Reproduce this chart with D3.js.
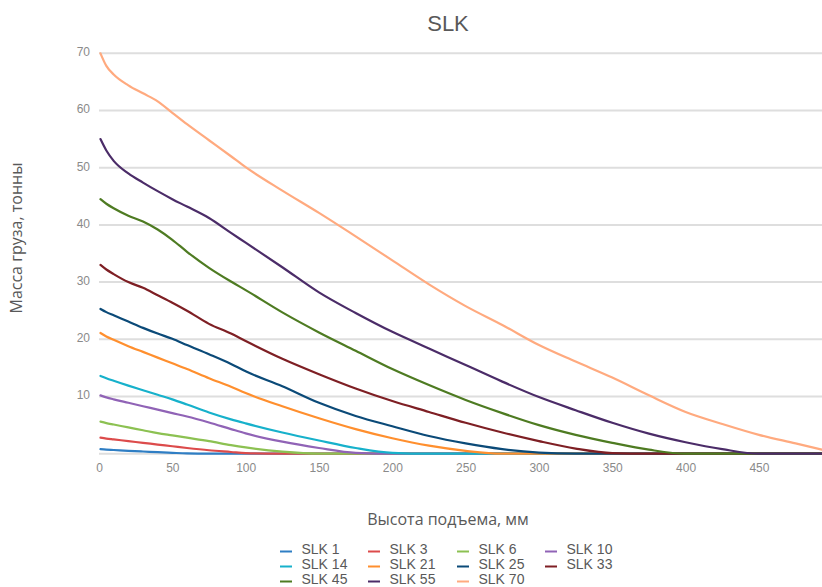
<!DOCTYPE html>
<html>
<head>
<meta charset="utf-8">
<script src="https://cdn.jsdelivr.net/npm/d3@7"></script>
<style>
  html, body { margin: 0; padding: 0; background: #fff; }
  svg { display: block; }
</style>
</head>
<body>
<svg id="chart" width="822" height="587"></svg>
<script>
// ---- data ----
const title = "SLK";
const xTitle = "Высота подъема, мм";
const yTitle = "Масса груза, тонны";
const xTicks = [0, 50, 100, 150, 200, 250, 300, 350, 400, 450];
const yTicks = [10, 20, 30, 40, 50, 60, 70];
const heights = [1, 5, 10, 20, 30, 40, 50, 60, 75, 90, 100, 125, 150, 175, 200, 225, 250, 275, 300, 325, 350, 375, 400, 425, 450, 475, 493];

const seriesNames = ["SLK 1", "SLK 3", "SLK 6", "SLK 10", "SLK 14", "SLK 21", "SLK 25", "SLK 33", "SLK 45", "SLK 55", "SLK 70"];
const seriesColors = ["#2f7ec4", "#dc4b4b", "#8cc152", "#9063b6", "#17b1cb", "#ff8f2e", "#0b4a78", "#7e1f24", "#4e7b22", "#4b2c68", "#ffaa7f"];

const slk1  = [0.8, 0.72, 0.65, 0.5, 0.38, 0.26, 0.15, 0.05, 0, 0, 0, 0, 0, 0, 0, 0, 0, 0, 0, 0, 0, 0, 0, 0, 0, 0, 0];
const slk3  = [2.8, 2.65, 2.5, 2.2, 1.9, 1.6, 1.3, 1.0, 0.6, 0.3, 0.1, 0, 0, 0, 0, 0, 0, 0, 0, 0, 0, 0, 0, 0, 0, 0, 0];
const slk6  = [5.6, 5.35, 5.1, 4.6, 4.1, 3.6, 3.2, 2.8, 2.2, 1.5, 1.1, 0.35, 0, 0, 0, 0, 0, 0, 0, 0, 0, 0, 0, 0, 0, 0, 0];
const slk10 = [10.2, 9.85, 9.5, 8.9, 8.3, 7.7, 7.1, 6.5, 5.45, 4.3, 3.55, 2.1, 1.0, 0.15, 0, 0, 0, 0, 0, 0, 0, 0, 0, 0, 0, 0, 0];
const slk14 = [13.6, 13.2, 12.75, 11.9, 11.1, 10.3, 9.5, 8.6, 7.2, 6.0, 5.3, 3.7, 2.3, 1.0, 0.15, 0, 0, 0, 0, 0, 0, 0, 0, 0, 0, 0, 0];
const slk21 = [21.1, 20.5, 19.9, 18.8, 17.8, 16.8, 15.8, 14.8, 13.2, 11.7, 10.6, 8.3, 6.2, 4.3, 2.7, 1.4, 0.5, 0, 0, 0, 0, 0, 0, 0, 0, 0, 0];
const slk25 = [25.3, 24.75, 24.2, 23.1, 22.0, 21.0, 20.1, 19.0, 17.4, 15.7, 14.4, 11.8, 8.9, 6.6, 4.8, 3.1, 1.8, 0.8, 0.2, 0, 0, 0, 0, 0, 0, 0, 0];
const slk33 = [33.0, 32.2, 31.4, 30.0, 29.0, 27.7, 26.4, 25.0, 22.7, 21.0, 19.7, 16.6, 13.9, 11.4, 9.2, 7.3, 5.4, 3.7, 2.2, 0.9, 0.1, 0, 0, 0, 0, 0, 0];
const slk45 = [44.5, 43.7, 42.9, 41.6, 40.6, 39.2, 37.4, 35.3, 32.5, 30.1, 28.6, 24.7, 21.2, 18.0, 14.8, 12.0, 9.4, 7.1, 5.0, 3.3, 1.9, 0.7, 0, 0, 0, 0, 0];
const slk55 = [55.0, 53.0, 51.2, 49.0, 47.4, 45.9, 44.5, 43.2, 41.2, 38.6, 36.9, 32.6, 28.2, 24.6, 21.3, 18.4, 15.5, 12.6, 9.9, 7.6, 5.4, 3.5, 2.0, 0.8, 0, 0, 0];
const slk70 = [70.0, 67.8, 66.3, 64.4, 63.0, 61.6, 59.6, 57.6, 54.8, 52.0, 50.1, 46.0, 42.1, 38.0, 33.8, 29.6, 25.8, 22.5, 19.0, 16.1, 13.3, 10.2, 7.3, 5.2, 3.3, 1.8, 0.7];

const seriesValues = [slk1, slk3, slk6, slk10, slk14, slk21, slk25, slk33, slk45, slk55, slk70];

// ---- layout ----
const svg = d3.select("#chart");
const plotLeft = 99, plotRight = 822, plotTop = 53.3, plotBottom = 453.7;

const x = d3.scaleLinear().domain([0, 493]).range([plotLeft, plotRight]);
const y = d3.scaleLinear().domain([0, 70]).range([plotBottom, plotTop]);

const sansF = "'Liberation Sans', Arial, Helvetica, sans-serif";
const titleF = "'Open Sans', 'Noto Sans', sans-serif";

// gridlines (including baseline at 0)
svg.append("g")
  .selectAll("line")
  .data([0].concat(yTicks))
  .join("line")
  .attr("x1", plotLeft).attr("x2", plotRight)
  .attr("y1", d => y(d)).attr("y2", d => y(d))
  .attr("stroke", "#dedede")
  .attr("stroke-width", 2);

// y tick labels
const yAxis = d3.axisLeft(y).tickValues(yTicks).tickSize(0).tickPadding(9);
const gy = svg.append("g").attr("transform", `translate(${plotLeft},0)`).call(yAxis);
gy.select(".domain").remove();
gy.selectAll("text")
  .attr("fill", "#8a8a8a")
  .style("font-family", sansF)
  .style("font-size", "12px")
  .attr("dy", "0.2em");

// x tick labels
const xAxis = d3.axisBottom(x).tickValues(xTicks).tickSize(0).tickPadding(10);
const gx = svg.append("g").attr("transform", `translate(0,${plotBottom})`).call(xAxis);
gx.select(".domain").remove();
gx.selectAll("text")
  .attr("fill", "#8a8a8a")
  .style("font-family", sansF)
  .style("font-size", "12px")
  .attr("y", 0).attr("dy", 0)
  .attr("transform", "translate(0,18.3)");

// lines
const line = d3.line()
  .x((d, i) => x(heights[i]))
  .y(d => y(d))
  .curve(d3.curveMonotoneX);

svg.append("g")
  .selectAll("path")
  .data(seriesValues)
  .join("path")
  .attr("d", d => line(d))
  .attr("fill", "none")
  .attr("stroke", (d, i) => seriesColors[i])
  .attr("stroke-width", 2.2)
  .attr("stroke-linejoin", "round")
  .attr("stroke-linecap", "round");

// title
svg.append("text")
  .attr("x", 448).attr("y", 31)
  .attr("text-anchor", "middle")
  .attr("fill", "#595959")
  .style("font-family", sansF)
  .style("font-size", "22px")
  .text(title);

// axis titles
svg.append("text")
  .attr("x", 448).attr("y", 525)
  .attr("text-anchor", "middle")
  .attr("fill", "#595959")
  .style("font-family", titleF)
  .style("font-size", "16px")
  .text(xTitle);

svg.append("text")
  .attr("transform", "translate(22,238) rotate(-90)")
  .attr("text-anchor", "middle")
  .attr("fill", "#595959")
  .style("font-family", titleF)
  .style("font-size", "16px")
  .text(yTitle);

// legend
const colX = [280, 368, 457, 545];
const rowY = [554, 569, 584];
const leg = svg.append("g")
  .selectAll("g")
  .data(seriesNames)
  .join("g")
  .attr("transform", (d, i) => `translate(${colX[i % 4]},${rowY[Math.floor(i / 4)]})`);

leg.append("line")
  .attr("x1", 0).attr("x2", 12)
  .attr("y1", -2.5).attr("y2", -2.5)
  .attr("stroke", (d, i) => seriesColors[i])
  .attr("stroke-width", 2);

leg.append("text")
  .attr("x", 21.5).attr("y", 0)
  .attr("fill", "#595959")
  .style("font-family", sansF)
  .style("font-size", "14px")
  .text(d => d);
</script>
</body>
</html>
